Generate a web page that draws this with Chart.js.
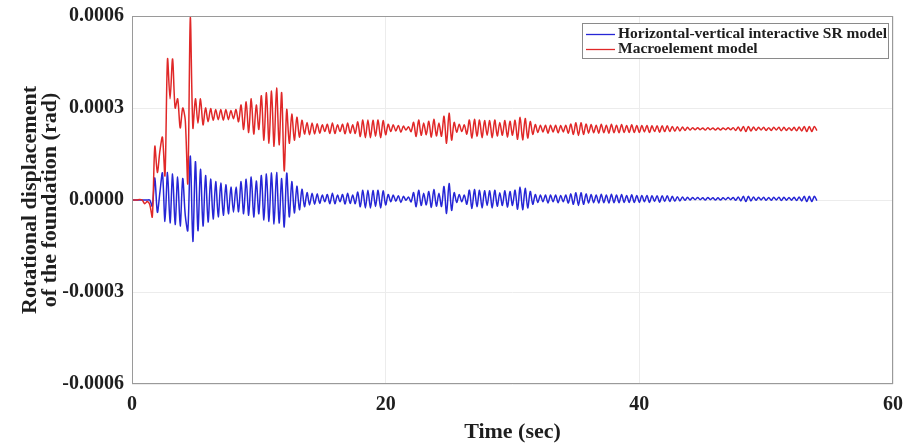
<!DOCTYPE html>
<html><head><meta charset="utf-8">
<script src="https://cdn.jsdelivr.net/npm/chart.js@4.4.0/dist/chart.umd.min.js"></script>
<style>html,body{margin:0;padding:0;background:#fff;}#wrap{width:909px;height:444px;}</style>
</head><body><div id="wrap"><canvas id="c" width="909" height="444"></canvas></div>
<script>
// sampling of the time histories (read along the time axis)
const START_TIME = 0;     // s
const TIME_STEP = 0.2;    // s
const UNIT = 1e-4;        // series values below are in units of 1e-4 rad

const seriesLabels = ['Horizontal-vertical interactive SR model', 'Macroelement model'];
const xTickValues = [0, 20, 40, 60];
const yTickValues = [-0.0006, -0.0003, 0, 0.0003, 0.0006];

const srModel = [
0,0,0,0,0,0,0,0,-0.2,0.72,
-0.4,0.25,0.88,-0.7,0.9,-0.75,0.85,-0.8,0.75,-0.85,
0.7,-0.5,-1.0,1.43,-1.35,1.25,-1.0,1.0,-0.85,0.8,
-0.72,0.68,-0.62,0.6,-0.55,0.55,-0.5,0.5,-0.45,0.42,
-0.4,0.42,-0.38,0.6,-0.45,0.68,-0.5,0.75,-0.55,0.62,
-0.45,0.8,-0.65,0.85,-0.7,0.88,-0.78,0.9,-0.75,0.7,
-0.88,0.88,-0.55,0.6,-0.42,0.45,-0.32,0.35,-0.22,0.24,
-0.16,0.22,-0.14,0.2,-0.11,0.16,-0.06,0.18,-0.12,0.22,
-0.12,0.16,-0.06,0.18,-0.13,0.22,-0.11,0.16,-0.12,0.26,
-0.22,0.32,-0.26,0.32,-0.26,0.31,-0.21,0.32,-0.26,0.3,
-0.16,0.18,-0.06,0.16,-0.04,0.14,-0.08,0.12,-0.01,0.1,
-0.06,0.24,-0.22,0.32,-0.18,0.22,-0.16,0.28,-0.24,0.34,
-0.2,0.22,-0.21,0.44,-0.44,0.54,-0.34,0.24,-0.08,0.18,
-0.06,0.16,-0.14,0.32,-0.28,0.34,-0.22,0.32,-0.26,0.3,
-0.18,0.3,-0.26,0.32,-0.2,0.24,-0.18,0.3,-0.24,0.28,
-0.18,0.32,-0.3,0.42,-0.32,0.38,-0.26,0.28,-0.14,0.18,
-0.08,0.16,-0.06,0.16,-0.1,0.16,-0.06,0.16,-0.09,0.15,
-0.06,0.16,-0.1,0.2,-0.14,0.24,-0.18,0.24,-0.14,0.2,
-0.1,0.18,-0.09,0.16,-0.1,0.19,-0.09,0.16,-0.1,0.19,
-0.09,0.16,-0.09,0.18,-0.08,0.15,-0.08,0.17,-0.08,0.15,
-0.08,0.15,-0.06,0.15,-0.08,0.14,-0.05,0.14,-0.07,0.14,
-0.05,0.14,-0.05,0.12,-0.04,0.11,-0.03,0.1,-0.01,0.09,
0,0.08,0.01,0.08,0.01,0.07,0,0.08,0.01,0.07,
0,0.07,0,0.07,0.01,0.08,0.01,0.08,-0.01,0.1,
-0.03,0.12,-0.05,0.12,-0.03,0.1,-0.01,0.09,0,0.09,
-0.01,0.08,-0.01,0.09,0,0.09,-0.02,0.09,-0.01,0.08,
-0.01,0.09,-0.02,0.1,-0.03,0.12,-0.05,0.12,-0.05,0.12,-0.02
];

const macroelement = [
0,0,0,0.02,0,-0.12,-0.05,-0.15,-0.55,1.75,
0.9,1.6,2.05,0.8,4.6,3.3,4.6,3.0,3.3,2.35,
3.0,2.6,0.55,5.95,2.35,3.3,2.5,3.3,2.45,3.0,
2.55,2.98,2.6,2.95,2.62,2.95,2.6,2.95,2.62,2.92,
2.65,2.95,2.55,3.1,2.3,3.2,2.2,3.3,2.15,3.1,
2.3,3.4,1.95,3.5,1.85,3.55,1.75,3.65,1.8,3.5,
0.95,2.95,1.85,2.8,1.95,2.7,2.05,2.6,2.15,2.53,
2.13,2.51,2.15,2.49,2.18,2.45,2.23,2.47,2.17,2.51,
2.17,2.45,2.23,2.47,2.16,2.51,2.18,2.45,2.17,2.55,
2.07,2.61,2.03,2.61,2.03,2.6,2.08,2.61,2.03,2.59,
2.13,2.47,2.23,2.45,2.25,2.43,2.21,2.41,2.28,2.39,
2.23,2.53,2.07,2.61,2.11,2.51,2.13,2.57,2.05,2.63,
2.09,2.51,2.08,2.73,1.85,2.83,1.95,2.53,2.21,2.47,
2.23,2.45,2.15,2.61,2.01,2.63,2.07,2.61,2.03,2.59,
2.11,2.59,2.03,2.61,2.09,2.53,2.11,2.59,2.05,2.57,
2.11,2.6,1.98,2.7,1.96,2.66,2.02,2.56,2.14,2.46,
2.2,2.44,2.22,2.44,2.18,2.44,2.22,2.44,2.19,2.43,
2.22,2.44,2.18,2.48,2.14,2.52,2.1,2.52,2.14,2.48,
2.18,2.46,2.19,2.44,2.18,2.47,2.19,2.44,2.18,2.47,
2.19,2.44,2.19,2.46,2.2,2.43,2.2,2.45,2.2,2.43,
2.2,2.43,2.22,2.43,2.2,2.42,2.23,2.42,2.21,2.42,
2.23,2.42,2.23,2.4,2.24,2.39,2.25,2.38,2.27,2.37,
2.28,2.36,2.29,2.36,2.29,2.35,2.28,2.36,2.29,2.35,
2.28,2.35,2.28,2.35,2.29,2.36,2.29,2.36,2.27,2.38,
2.25,2.4,2.23,2.4,2.25,2.38,2.27,2.37,2.28,2.37,
2.27,2.36,2.27,2.37,2.28,2.37,2.26,2.37,2.27,2.36,
2.27,2.37,2.26,2.38,2.25,2.4,2.23,2.4,2.23,2.4,2.26
];

const toPoints = arr => arr.map((v, i) => ({ x: START_TIME + i * TIME_STEP, y: v * UNIT }));

const FONT = "'Liberation Serif', 'Times New Roman', serif";
const TEXT = '#1e1e1e';

const framePlugin = {
  id: 'frame',
  afterDraw(chart) {
    const { ctx, chartArea: a } = chart;
    ctx.save();
    ctx.strokeStyle = '#9a9a9a';
    ctx.lineWidth = 1;
    ctx.strokeRect(a.left + 0.5, a.top + 0.5, a.right - a.left - 1, a.bottom - a.top - 1);
    // legend box
    const bx = 582, by = 23, bw = 306, bh = 35;
    ctx.fillStyle = '#fff';
    ctx.fillRect(bx, by, bw, bh);
    ctx.strokeStyle = '#8a8a8a';
    ctx.strokeRect(bx + 0.5, by + 0.5, bw, bh);
    ctx.font = 'bold 15.5px ' + FONT;
    ctx.textBaseline = 'middle';
    ctx.textAlign = 'left';
    chart.data.datasets.forEach((ds, k) => {
      const y = by + 11 + k * 15;
      ctx.strokeStyle = ds.borderColor;
      ctx.lineWidth = 1.3;
      ctx.beginPath(); ctx.moveTo(bx + 4, y + 0.5); ctx.lineTo(bx + 33, y + 0.5); ctx.stroke();
      ctx.fillStyle = TEXT;
      ctx.fillText(ds.label, bx + 36, y);
    });
    ctx.restore();
  }
};

new Chart(document.getElementById('c'), {
  type: 'line',
  data: {
    datasets: [
      { label: seriesLabels[0], data: toPoints(srModel), borderColor: '#2626d6', borderWidth: 1.5, pointRadius: 0, tension: 0.3, order: 2 },
      { label: seriesLabels[1], data: toPoints(macroelement), borderColor: '#e02828', borderWidth: 1.5, pointRadius: 0, tension: 0.3, order: 1 }
    ]
  },
  plugins: [framePlugin],
  options: {
    responsive: false,
    animation: false,
    devicePixelRatio: 1,
    layout: { padding: { top: 16, right: 16, left: 0, bottom: 0 } },
    plugins: { legend: { display: false }, tooltip: { enabled: false } },
    scales: {
      x: {
        type: 'linear', min: 0, max: 60,
        afterBuildTicks: s => { s.ticks = xTickValues.map(v => ({ value: v })); },
        afterFit: s => { s.height = 60; s.paddingLeft = 0; s.paddingRight = 0; },
        grid: { color: '#ececec', drawTicks: false },
        border: { display: false },
        ticks: { color: TEXT, padding: 9, font: { family: FONT, size: 20, weight: 'bold' }, maxRotation: 0 },
        title: { display: true, text: 'Time (sec)', color: TEXT, padding: { top: 0, bottom: 1 }, font: { family: FONT, size: 22, weight: 'bold', lineHeight: 1.0 } }
      },
      y: {
        min: -0.0006, max: 0.0006,
        afterBuildTicks: s => { s.ticks = yTickValues.map(v => ({ value: v })); },
        afterFit: s => { s.width = 132; s.paddingTop = 0; s.paddingBottom = 0; },
        grid: { color: '#ececec', drawTicks: false },
        border: { display: false },
        ticks: { color: TEXT, padding: 8, font: { family: FONT, size: 20, weight: 'bold' }, callback: v => v.toFixed(4) },
        title: { display: true, text: ['Rotational displacement', 'of the foundation (rad)'], color: TEXT, padding: { top: 20, bottom: 0 }, font: { family: FONT, size: 22, weight: 'bold', lineHeight: 0.91 } }
      }
    }
  }
});
</script>
</body></html>
